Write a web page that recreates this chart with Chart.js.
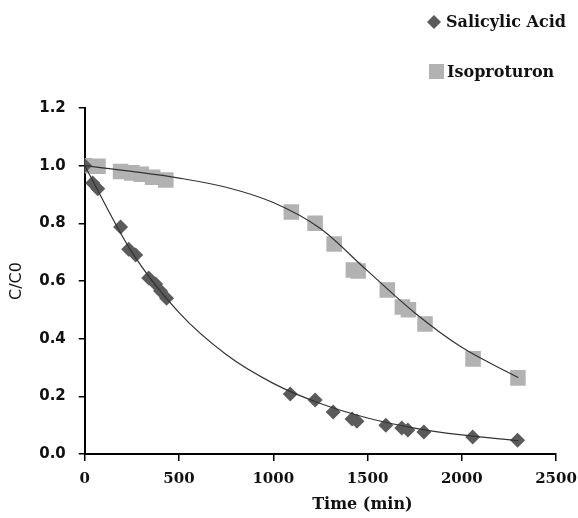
<!DOCTYPE html>
<html>
<head>
<meta charset="utf-8">
<script src="https://cdn.jsdelivr.net/npm/chart.js@4/dist/chart.umd.min.js"></script>
<style>
  html, body { margin: 0; padding: 0; background: #fff; }
  #wrap { width: 578px; height: 518px; }
</style>
</head>
<body>
<div id="wrap"><canvas id="chart" width="578" height="518"></canvas></div>
<script>
// measured points
const timeSA = [0, 42, 69, 190, 233, 270, 339, 376, 402, 434, 1090, 1222, 1318, 1418, 1444, 1597, 1682, 1714, 1799, 2058, 2296];
const ratioSA = [1.0, 0.94, 0.92, 0.787, 0.71, 0.69, 0.61, 0.59, 0.565, 0.54, 0.208, 0.187, 0.146, 0.121, 0.114, 0.10, 0.09, 0.083, 0.076, 0.059, 0.048];

const timeIP = [0, 70, 190, 250, 300, 360, 430, 1096, 1222, 1323, 1425, 1450, 1605, 1685, 1717, 1805, 2060, 2298];
const ratioIP = [1.0, 0.998, 0.98, 0.975, 0.97, 0.96, 0.95, 0.839, 0.80, 0.728, 0.638, 0.635, 0.569, 0.51, 0.50, 0.451, 0.33, 0.264];

// fitted trend lines
const fitTime = [0, 250, 500, 750, 1000, 1250, 1500, 1750, 2000, 2300];
const fitSA = [1.0, 0.70, 0.49, 0.345, 0.245, 0.175, 0.125, 0.09, 0.066, 0.046];
const fitIP = [1.0, 0.98, 0.957, 0.925, 0.872, 0.782, 0.635, 0.49, 0.37, 0.265];

const seriesNames = ['Salicylic Acid', 'Isoproturon'];
const xTicks = [0, 500, 1000, 1500, 2000, 2500];
const yTicks = [0, 0.2, 0.4, 0.6, 0.8, 1.0, 1.2];

const toXY = (xs, ys) => xs.map((x, i) => ({ x: x, y: ys[i] }));

const SA_COLOR = '#5b5b5b';
const IP_COLOR = '#b2b2b2';

// legend in the upper right, plus the offset x title
const extras = {
  id: 'extras',
  afterDraw(chart) {
    const ctx = chart.ctx;
    const area = chart.chartArea;
    ctx.save();
    ctx.font = 'bold 16px "DejaVu Serif"';
    ctx.textBaseline = 'middle';
    ctx.textAlign = 'left';

    // diamond
    ctx.fillStyle = SA_COLOR;
    ctx.beginPath();
    ctx.moveTo(434, 15); ctx.lineTo(441, 22); ctx.lineTo(434, 29); ctx.lineTo(427, 22);
    ctx.closePath();
    ctx.fill();
    ctx.fillStyle = '#111';
    ctx.fillText(seriesNames[0], 446, 23);

    // square
    ctx.fillStyle = IP_COLOR;
    ctx.fillRect(429, 64, 15, 15);
    ctx.fillStyle = '#111';
    ctx.fillText(seriesNames[1], 447, 73);

    // x axis title
    ctx.textAlign = 'center';
    ctx.fillText('Time (min)', (area.left + area.right) / 2 + 42, 505);
    ctx.restore();
  }
};

new Chart(document.getElementById('chart'), {
  type: 'scatter',
  data: {
    datasets: [
      {
        label: 'fit SA',
        type: 'line',
        data: toXY(fitTime, fitSA),
        borderColor: '#333',
        borderWidth: 1.2,
        pointRadius: 0,
        fill: false,
        cubicInterpolationMode: 'monotone',
        order: 0
      },
      {
        label: 'fit IP',
        type: 'line',
        data: toXY(fitTime, fitIP),
        borderColor: '#333',
        borderWidth: 1.2,
        pointRadius: 0,
        fill: false,
        cubicInterpolationMode: 'monotone',
        order: 0
      },
      {
        label: seriesNames[0],
        data: toXY(timeSA, ratioSA),
        pointStyle: 'rectRot',
        pointRadius: 7.5,
        backgroundColor: SA_COLOR,
        borderColor: SA_COLOR,
        borderWidth: 0,
        order: 1
      },
      {
        label: seriesNames[1],
        data: toXY(timeIP, ratioIP),
        pointStyle: 'rect',
        pointRadius: 11,
        backgroundColor: IP_COLOR,
        borderColor: IP_COLOR,
        borderWidth: 0,
        order: 2
      }
    ]
  },
  options: {
    responsive: false,
    animation: false,
    layout: { padding: { top: 108, right: 0, bottom: 21, left: 7 } },
    plugins: {
      legend: { display: false },
      tooltip: { enabled: false }
    },
    scales: {
      x: {
        type: 'linear',
        min: 0,
        max: 2500,
        afterBuildTicks: (axis) => { axis.ticks = xTicks.map(v => ({ value: v })); },
        afterFit: (axis) => { axis.paddingRight = 22; },
        grid: { drawOnChartArea: false, drawTicks: true, tickLength: 7, color: '#000', lineWidth: 1.5 },
        border: { color: '#000', width: 2 },
        ticks: {
          color: '#111',
          font: { family: '"DejaVu Serif"', size: 15, weight: 'bold' },
          padding: 9,
          maxRotation: 0,
          callback: (v) => String(v)
        }
      },
      y: {
        min: 0,
        max: 1.2,
        afterBuildTicks: (axis) => { axis.ticks = yTicks.map(v => ({ value: v })); },
        grid: { drawOnChartArea: false, drawTicks: true, tickLength: 6, color: '#000', lineWidth: 1.5 },
        border: { color: '#000', width: 2 },
        ticks: {
          color: '#111',
          font: { family: '"DejaVu Sans"', size: 15, weight: 'bold' },
          padding: 13,
          callback: (v) => Number(v).toFixed(1)
        },
        title: {
          display: true,
          text: 'C/C0',
          color: '#111',
          font: { family: '"DejaVu Sans"', size: 16 },
          padding: { top: 0, bottom: 0 }
        }
      }
    }
  },
  plugins: [extras]
});
</script>
</body>
</html>
